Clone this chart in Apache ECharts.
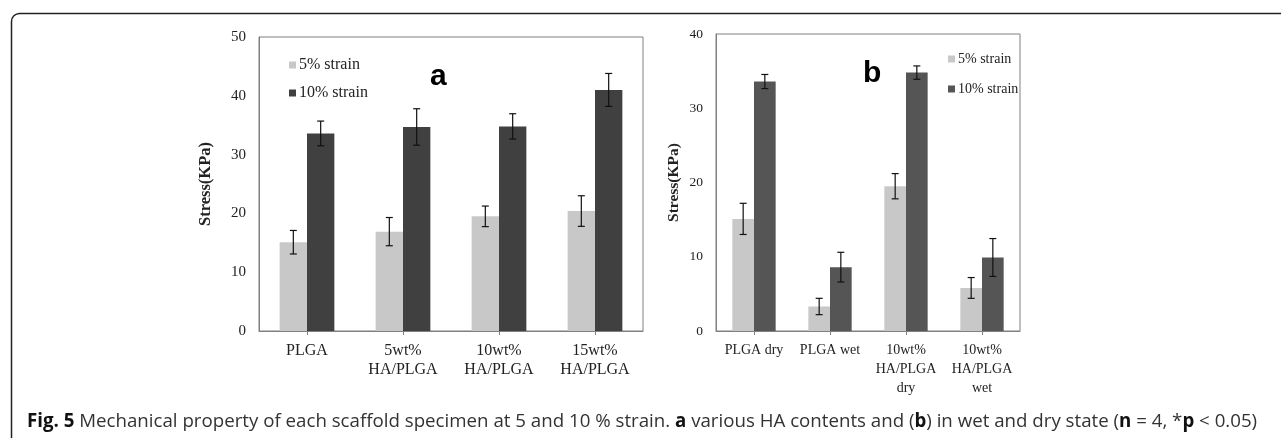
<!DOCTYPE html>
<html>
<head>
<meta charset="utf-8">
<script src="https://cdn.jsdelivr.net/npm/echarts@6/dist/echarts.min.js"></script>
<style>
  html, body { margin: 0; padding: 0; background: #fff; }
  #chart { width: 1281px; height: 438px; }
</style>
</head>
<body>
<div id="chart"></div>
<script>
// Panel a: scaffolds with different HA contents
const categoriesA = ['PLGA', '5wt%\nHA/PLGA', '10wt%\nHA/PLGA', '15wt%\nHA/PLGA'];
const strain5A = [15.1, 16.9, 19.5, 20.4];
const strain10A = [33.6, 34.7, 34.8, 41.0];
const err5A = [2.0, 2.4, 1.75, 2.6];
const err10A = [2.1, 3.1, 2.15, 2.8];

// Panel b: dry vs wet state
const categoriesB = ['PLGA dry', 'PLGA wet', '10wt%\nHA/PLGA\ndry', '10wt%\nHA/PLGA\nwet'];
const strain5B = [15.1, 3.3, 19.5, 5.8];
const strain10B = [33.6, 8.6, 34.8, 9.9];
const err5B = [2.1, 1.1, 1.7, 1.4];
const err10B = [0.95, 2.0, 0.9, 2.55];

const seriesNames = ['5% strain', '10% strain'];
const yMaxA = 50, yMaxB = 40, yStep = 10;

const SERIF = '"Liberation Serif", "DejaVu Serif", serif';
const SANS = '"Open Sans", "Noto Sans", sans-serif';
const LIGHT = '#c8c8c8';
const DARK_A = '#404040';
const DARK_B = '#555555';
const AXIS = '#808080';
const GAP = 43; // percent of band left empty between groups

// Error bar drawn at the centre of one bar in a two-bar group (side -1 / +1)
function errorBars(side) {
  return function (params, api) {
    const i = api.value(0), v = api.value(1), e = api.value(2);
    const band = api.size([1, 0])[0];
    const bw = band * (1 - GAP / 100) / 2;
    const x = api.coord([i, v])[0] + side * bw / 2;
    const yt = api.coord([i, v + e])[1];
    const yb = api.coord([i, v - e])[1];
    const cap = 3.5;
    const st = { stroke: '#111', lineWidth: 1.2 };
    return {
      type: 'group',
      children: [
        { type: 'line', shape: { x1: x, y1: yt, x2: x, y2: yb }, style: st },
        { type: 'line', shape: { x1: x - cap, y1: yt, x2: x + cap, y2: yt }, style: st },
        { type: 'line', shape: { x1: x - cap, y1: yb, x2: x + cap, y2: yb }, style: st }
      ]
    };
  };
}

function errData(vals, errs) {
  return vals.map((v, i) => [i, v, errs[i]]);
}

function catAxis(gridIndex, cats, size) {
  return {
    type: 'category', gridIndex, data: cats,
    axisLine: { lineStyle: { color: AXIS, width: 1 } },
    axisTick: { show: true, alignWithLabel: true, length: 4, lineStyle: { color: AXIS } },
    axisLabel: { color: '#222', fontFamily: SERIF, fontSize: size, lineHeight: 19, margin: 10, interval: 0 }
  };
}

function valAxis(gridIndex, max, gap, labelSize, nameSize) {
  return {
    type: 'value', gridIndex, min: 0, max, interval: yStep,
    name: 'Stress(KPa)', nameLocation: 'middle', nameGap: gap,
    nameTextStyle: { fontFamily: SERIF, fontSize: nameSize, fontWeight: 'bold', color: '#222' },
    axisLine: { show: true, lineStyle: { color: AXIS } },
    axisTick: { show: false },
    splitLine: { show: false },
    axisLabel: { color: '#222', fontFamily: SERIF, fontSize: labelSize, margin: 13 }
  };
}

const chart = echarts.init(document.getElementById('chart'), null, { renderer: 'canvas' });

chart.setOption({
  animation: false,
  backgroundColor: '#fff',
  title: {
    left: 22, top: 407,
    text: '{b|Fig. 5} Mechanical property of each scaffold specimen at 5 and 10 % strain. {b|a} various HA contents and ({b|b}) in wet and dry state ({b|n} = 4, *{b|p} < 0.05)',
    textStyle: {
      fontFamily: SANS, fontSize: 18.7, fontWeight: 'normal', color: '#333',
      rich: { b: { fontFamily: SANS, fontSize: 18.7, fontWeight: 'bold', color: '#111' } }
    }
  },
  grid: [
    { left: 259, top: 37, width: 384, height: 294, show: true, borderColor: AXIS, borderWidth: 1 },
    { left: 716, top: 34, width: 304, height: 297, show: true, borderColor: AXIS, borderWidth: 1 }
  ],
  legend: [
    {
      orient: 'vertical', left: 284, top: 51, itemGap: 10, itemWidth: 7, itemHeight: 7,
      icon: 'rect', data: [{ name: seriesNames[0] + ' ', itemStyle: { color: LIGHT } }, { name: seriesNames[1] + ' ', itemStyle: { color: DARK_A } }],
      textStyle: { fontFamily: SERIF, fontSize: 16, lineHeight: 18, color: '#222', padding: [0, 0, 0, -2] }
    },
    {
      orient: 'vertical', left: 943, top: 45, itemGap: 12, itemWidth: 7, itemHeight: 7,
      icon: 'rect', data: [{ name: seriesNames[0], itemStyle: { color: LIGHT } }, { name: seriesNames[1], itemStyle: { color: DARK_B } }],
      textStyle: { fontFamily: SERIF, fontSize: 14, lineHeight: 18, color: '#222', padding: [0, 0, 0, -2] }
    }
  ],
  xAxis: [catAxis(0, categoriesA, 16), catAxis(1, categoriesB, 14)],
  yAxis: [valAxis(0, yMaxA, 45, 15, 16.5), valAxis(1, yMaxB, 34, 13.5, 15.5)],
  series: [
    { name: seriesNames[0] + ' ', type: 'bar', xAxisIndex: 0, yAxisIndex: 0, data: strain5A,
      barGap: '0%', barCategoryGap: GAP + '%', itemStyle: { color: LIGHT } },
    { name: seriesNames[1] + ' ', type: 'bar', xAxisIndex: 0, yAxisIndex: 0, data: strain10A,
      barGap: '0%', barCategoryGap: GAP + '%', itemStyle: { color: DARK_A } },
    { type: 'custom', xAxisIndex: 0, yAxisIndex: 0, renderItem: errorBars(-1), data: errData(strain5A, err5A), encode: { x: 0, y: 1 }, z: 5 },
    { type: 'custom', xAxisIndex: 0, yAxisIndex: 0, renderItem: errorBars(1), data: errData(strain10A, err10A), encode: { x: 0, y: 1 }, z: 5 },

    { name: seriesNames[0], type: 'bar', xAxisIndex: 1, yAxisIndex: 1, data: strain5B,
      barGap: '0%', barCategoryGap: GAP + '%', itemStyle: { color: LIGHT } },
    { name: seriesNames[1], type: 'bar', xAxisIndex: 1, yAxisIndex: 1, data: strain10B,
      barGap: '0%', barCategoryGap: GAP + '%', itemStyle: { color: DARK_B } },
    { type: 'custom', xAxisIndex: 1, yAxisIndex: 1, renderItem: errorBars(-1), data: errData(strain5B, err5B), encode: { x: 0, y: 1 }, z: 5 },
    { type: 'custom', xAxisIndex: 1, yAxisIndex: 1, renderItem: errorBars(1), data: errData(strain10B, err10B), encode: { x: 0, y: 1 }, z: 5 }
  ],
  graphic: [
    // figure frame: rounded top-left corner, right and bottom edges fall off the page
    { type: 'rect', left: 9, top: 11, z: 0, silent: true,
      shape: { width: 1400, height: 600, r: [8, 0, 0, 0] },
      style: { fill: 'none', stroke: '#222', lineWidth: 1.5 } },
    // panel letters
    { type: 'text', left: 430, top: 62, style: { text: 'a', font: 'bold 30px "Liberation Sans", Arial, sans-serif', fill: '#000' } },
    { type: 'text', left: 863, top: 59, style: { text: 'b', font: 'bold 30px "Liberation Sans", Arial, sans-serif', fill: '#000' } }
  ]
});
</script>
</body>
</html>
